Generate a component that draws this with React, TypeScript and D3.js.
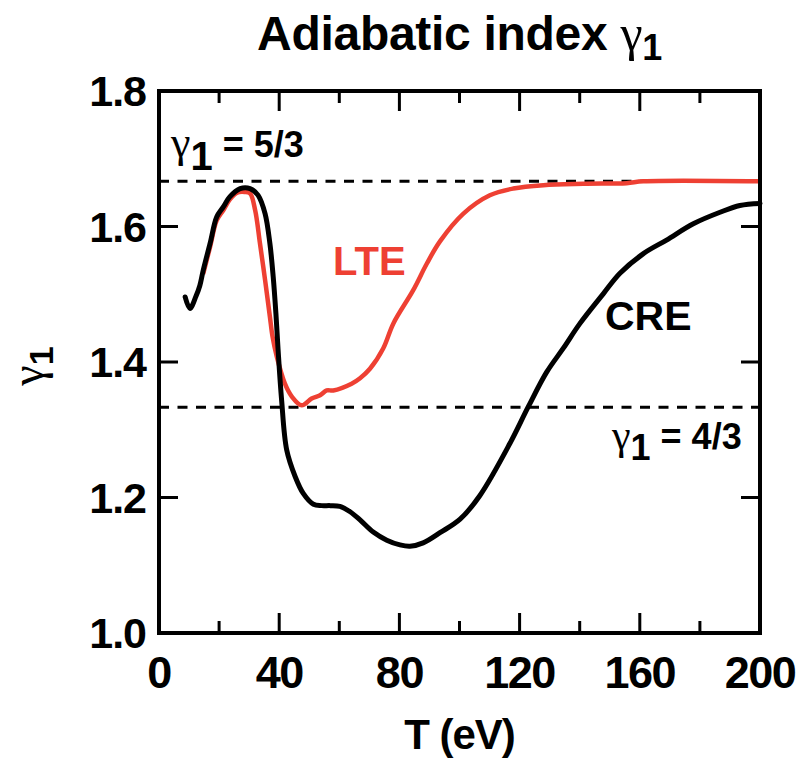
import React from "react";
import * as d3 from "d3";

// CRE curve (black)
const creT = [8.7, 10.3, 12.3, 13.6, 14.7, 17, 19.2, 21.4, 23.6, 27, 30.3, 33, 35.3, 36.9, 38, 38.9, 39.6, 40.8, 42.5, 45.3, 48, 51.4, 54.1, 57, 60.2, 63.6, 66.9, 71.3, 75.8, 80.2, 83.5, 87.9, 93.5, 100.2, 106.8, 116.8, 122.9, 129, 134.5, 140.1, 147.9, 153.4, 161.2, 168.9, 177.8, 186.7, 193.3, 200];
const creG = [1.496, 1.479, 1.497, 1.513, 1.535, 1.575, 1.614, 1.629, 1.644, 1.656, 1.656, 1.646, 1.619, 1.575, 1.526, 1.472, 1.42, 1.344, 1.27, 1.231, 1.206, 1.19, 1.188, 1.188, 1.187, 1.179, 1.167, 1.149, 1.137, 1.13, 1.128, 1.133, 1.148, 1.168, 1.203, 1.28, 1.334, 1.385, 1.42, 1.457, 1.501, 1.531, 1.56, 1.58, 1.604, 1.621, 1.631, 1.634];

// LTE curve (red)
const lteT = [14.7, 17, 19.2, 21.4, 23.6, 26, 28.5, 30.3, 32, 33.6, 35.3, 36.9, 37.8, 39.2, 41.9, 44.2, 47.5, 50.8, 53.6, 55.8, 58, 64.1, 66.9, 70.2, 74.6, 78, 84.6, 89.1, 93.5, 101.3, 110.1, 117.9, 127.9, 141.2, 155.6, 161.2, 200];
const lteG = [1.53, 1.57, 1.609, 1.624, 1.64, 1.65, 1.651, 1.649, 1.624, 1.575, 1.521, 1.467, 1.437, 1.408, 1.368, 1.349, 1.336, 1.346, 1.351, 1.358, 1.358, 1.368, 1.376, 1.39, 1.42, 1.457, 1.506, 1.545, 1.578, 1.619, 1.646, 1.656, 1.661, 1.663, 1.664, 1.6667, 1.6667];

const xMajor = [0, 40, 80, 120, 160, 200];
const xMinor = [20, 60, 100, 140, 180];
const yLabels = [1.0, 1.2, 1.4, 1.6, 1.8];
const yTicks = [1.2, 1.4, 1.6];
const refLines = [5 / 3, 4 / 3];

const FONT = "'Liberation Sans', Arial, Helvetica, sans-serif";
const GREEK = "'Liberation Serif', 'DejaVu Serif', serif";

const App = () => {
  const width = 801;
  const height = 761;
  const left = 159;
  const right = 760;
  const top = 91;
  const bottom = 633;

  const x = d3.scaleLinear().domain([0, 200]).range([left, right]);
  const y = d3.scaleLinear().domain([1.0, 1.8]).range([bottom, top]);

  const line = d3
    .line<[number, number]>()
    .x((d) => x(d[0]))
    .y((d) => y(d[1]))
    .curve(d3.curveCatmullRom.alpha(0.5));

  const cre = creT.map((t, i) => [t, creG[i]] as [number, number]);
  const lte = lteT.map((t, i) => [t, lteG[i]] as [number, number]);

  const midX = (left + right) / 2;

  return (
    <svg width={width} height={height} style={{ position: "absolute", left: 0, top: 0 }}>
      <rect width={width} height={height} fill="white" />

      {/* Title */}
      <text x={midX} y={50} textAnchor="middle" fontFamily={FONT} fontWeight="bold" fontSize={48} letterSpacing={-0.3}>
        Adiabatic index{" "}
        <tspan fontFamily={GREEK} fontWeight="normal" fontSize={50}>γ</tspan>
        <tspan fontSize={36} dy={10}>1</tspan>
      </text>

      {/* reference lines */}
      {refLines.map((v, i) => (
        <line key={i} x1={left} x2={right} y1={y(v)} y2={y(v)} stroke="black" strokeWidth={3} strokeDasharray="10,8.5" />
      ))}

      {/* curves */}
      <path d={line(lte) ?? ""} fill="none" stroke="#ee4033" strokeWidth={4.5} strokeLinejoin="round" />
      <path d={line(cre) ?? ""} fill="none" stroke="black" strokeWidth={5} strokeLinejoin="round" strokeLinecap="round" />

      {/* frame */}
      <rect x={left} y={top} width={right - left} height={bottom - top} fill="none" stroke="black" strokeWidth={4} />

      {/* x ticks */}
      {xMajor.map((v) => (
        <g key={"M" + v}>
          <line x1={x(v)} x2={x(v)} y1={bottom} y2={bottom - 20} stroke="black" strokeWidth={3} />
          <line x1={x(v)} x2={x(v)} y1={top} y2={top + 20} stroke="black" strokeWidth={3} />
          <text x={x(v)} y={688} textAnchor="middle" fontFamily={FONT} fontWeight="bold" fontSize={45} letterSpacing={-1.5}>
            {v}
          </text>
        </g>
      ))}
      {xMinor.map((v) => (
        <g key={"m" + v}>
          <line x1={x(v)} x2={x(v)} y1={bottom} y2={bottom - 12} stroke="black" strokeWidth={3} />
          <line x1={x(v)} x2={x(v)} y1={top} y2={top + 12} stroke="black" strokeWidth={3} />
        </g>
      ))}

      {/* y ticks */}
      {yTicks.map((v) => (
        <g key={"y" + v}>
          <line x1={left} x2={left + 19} y1={y(v)} y2={y(v)} stroke="black" strokeWidth={3} />
          <line x1={right} x2={right - 19} y1={y(v)} y2={y(v)} stroke="black" strokeWidth={3} />
        </g>
      ))}
      {yLabels.map((v) => (
        <text key={"yl" + v} x={146} y={y(v)} dy="0.36em" textAnchor="end" fontFamily={FONT} fontWeight="bold" fontSize={43} letterSpacing={-1}>
          {v.toFixed(1)}
        </text>
      ))}

      {/* axis titles */}
      <text x={midX} y={749} textAnchor="middle" fontFamily={FONT} fontWeight="bold" fontSize={42} letterSpacing={-1}>
        T (eV)
      </text>
      <text transform={`translate(43, 366) rotate(-90)`} textAnchor="middle" fontFamily={FONT} fontWeight="bold" fontSize={40}>
        <tspan fontFamily={GREEK} fontWeight="normal" fontSize={46}>γ</tspan>
        <tspan fontSize={34} dy={10}>1</tspan>
      </text>

      {/* annotations */}
      <text x={171} y={157} fontFamily={FONT} fontWeight="bold" fontSize={36}>
        <tspan fontFamily={GREEK} fontWeight="normal" fontSize={44}>γ</tspan>
        <tspan fontSize={40} dy={13}>1</tspan>
        <tspan dy={-13}> = 5/3</tspan>
      </text>
      <text x={612} y={449} fontFamily={FONT} fontWeight="bold" fontSize={36}>
        <tspan fontFamily={GREEK} fontWeight="normal" fontSize={42}>γ</tspan>
        <tspan fontSize={36} dy={11}>1</tspan>
        <tspan dy={-11}> = 4/3</tspan>
      </text>
      <text x={333} y={275} fontFamily={FONT} fontWeight="bold" fontSize={40} fill="#ee4033">
        LTE
      </text>
      <text x={605} y={330} fontFamily={FONT} fontWeight="bold" fontSize={41}>
        CRE
      </text>
    </svg>
  );
};

export default App;
